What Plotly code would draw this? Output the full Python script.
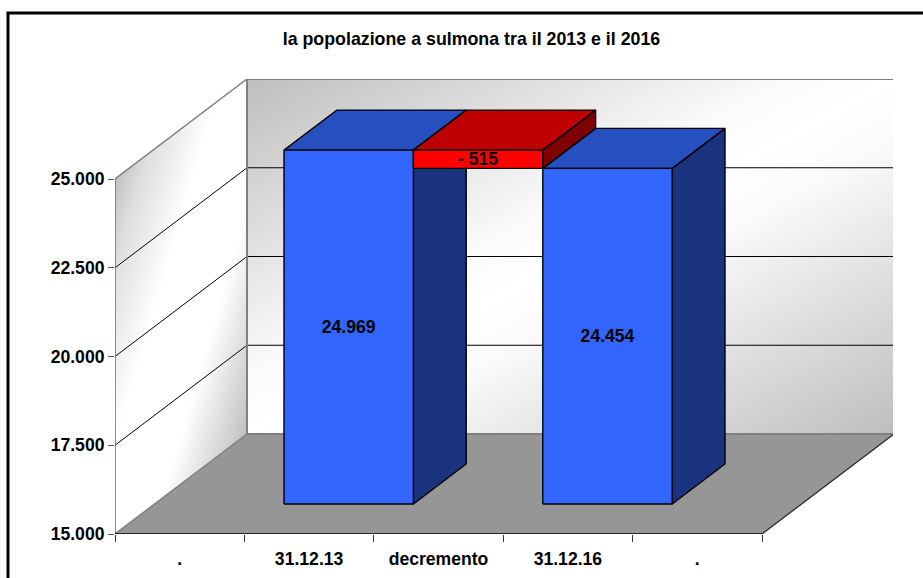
import numpy as np
import plotly.graph_objects as go

# ---- data ----
TITLE = "la popolazione a sulmona tra il 2013 e il 2016"
CATEGORIES = [".", "31.12.13", "decremento", "31.12.16", "."]
Y_TICKS = [15000, 17500, 20000, 22500, 25000]
BAR_SLOTS = [1, 3, 2]              # painter's order: left, right, then floating red
BAR_BASE = [15000, 15000, 24454]
BAR_VALUE = [24969, 24454, 515]
BAR_LABEL = ["24.969", "24.454", "- 515"]
FRONT = ["#3366FF", "#3366FF", "#FF0000"]
TOP = ["#264FBF", "#264FBF", "#BF0000"]
SIDE = ["#19337F", "#19337F", "#7F0000"]

# ---- oblique projection: depth d in 0..1 shifts a point across the plot ----
X_PX_PER_CAT = 129.4
Y_PX_PER_VAL = 0.0355
DEPTH_X = 132 / X_PX_PER_CAT
DEPTH_Y = 100 / Y_PX_PER_VAL
Y0, Y1 = 15000, 25000
N = len(CATEGORIES)
W, H = 923, 578
M_L, M_R, M_T, M_B = 115, 30, 79, 44
PLOT_W, PLOT_H = W - M_L - M_R, H - M_T - M_B
BAR_FRONT, BAR_BACK = 0.3, 0.7
FONT_SIZE = 17.6
LABEL_NUDGE_PX = 1.5


def proj(c, v, d=0.0):
    return c + d * DEPTH_X, v + d * DEPTH_Y


def poly(pts, fill, line="black", lw=1.4):
    xs, ys = zip(*(proj(*p) for p in pts + pts[:1]))
    return go.Scatter(x=xs, y=ys, mode="lines", fill="toself", fillcolor=fill,
                      line=dict(color=line, width=lw), hoverinfo="skip", showlegend=False)


def seg(a, b, color, lw):
    xs, ys = zip(proj(*a), proj(*b))
    return go.Scatter(x=xs, y=ys, mode="lines", line=dict(color=color, width=lw),
                      hoverinfo="skip", showlegend=False)


SHADE_BACK = [[0, "#BEBEBE"], [0.42, "#FBFBFB"], [0.5, "#FFFFFF"], [0.58, "#FBFBFB"], [1, "#BEBEBE"]]
SHADE_LEFT = [[0, "#C0C0C0"], [0.125, "#DEDEDE"], [0.38, "#FFFFFF"], [0.68, "#FFFFFF"], [1, "#C0C0C0"]]
fig = go.Figure()

# back wall shading
bx = np.linspace(DEPTH_X, N + DEPTH_X, 220)
by = np.linspace(Y0 + DEPTH_Y, Y1 + DEPTH_Y, 180)
BX, BY = np.meshgrid(bx, by)
zb = ((BX - DEPTH_X) / N + (Y1 + DEPTH_Y - BY) / (Y1 - Y0)) / 2
fig.add_trace(go.Heatmap(x=bx, y=by, z=zb, colorscale=SHADE_BACK, zmin=0, zmax=1,
                         showscale=False, hoverinfo="skip"))

# left wall shading
lx = np.linspace(0, DEPTH_X, 134)
ly = np.linspace(Y0, Y1 + DEPTH_Y, 228)
LX, LY = np.meshgrid(lx, ly)
U = LX / DEPTH_X
V = (Y1 - (LY - U * DEPTH_Y)) / (Y1 - Y0)
zl = (U + V) / 2
zl[(V < 0) | (V > 1)] = np.nan
fig.add_trace(go.Heatmap(x=lx, y=ly, z=zl, colorscale=SHADE_LEFT, zmin=0, zmax=1,
                         showscale=False, hoverinfo="skip"))

# floor
fig.add_trace(poly([(0, Y0, 0), (N, Y0, 0), (N, Y0, 1), (0, Y0, 1)], "#969696", "#969696", 0.5))

# gridlines on both walls
for t in Y_TICKS[1:-1]:
    fig.add_trace(seg((0, t, 0), (0, t, 1), "black", 1))
    fig.add_trace(seg((0, t, 1), (N, t, 1), "black", 1))

# wall and floor edges
fig.add_trace(seg((0, Y0, 0), (0, Y1, 0), "#6E6E6E", 1.5))
fig.add_trace(seg((0, Y1, 0), (0, Y1, 1), "#808080", 1.5))
fig.add_trace(seg((0, Y0, 0), (0, Y0, 1), "#808080", 1.5))
fig.add_trace(seg((0, Y0, 1), (0, Y1, 1), "#808080", 2))
fig.add_trace(seg((0, Y1, 1), (N, Y1, 1), "#808080", 2))
fig.add_trace(seg((N, Y1, 1), (N, Y0, 1), "#A6A6A6", 2))
fig.add_trace(seg((0, Y0, 1), (N, Y0, 1), "#808080", 2))
fig.add_trace(seg((N, Y0, 0), (N, Y0, 1), "#222222", 1.2))
fig.add_trace(seg((0, Y0, 0), (N, Y0, 0), "black", 1.5))

# 3-D bars, all drawn from the data through the projection
for i, slot in enumerate(BAR_SLOTS):
    lo = BAR_BASE[i]
    hi = lo + BAR_VALUE[i] if lo != Y0 else BAR_VALUE[i]
    a, b = slot, slot + 1
    f, k = BAR_FRONT, BAR_BACK
    fig.add_trace(poly([(b, lo, f), (b, lo, k), (b, hi, k), (b, hi, f)], SIDE[i]))
    fig.add_trace(poly([(a, hi, f), (b, hi, f), (b, hi, k), (a, hi, k)], TOP[i]))
    fig.add_trace(poly([(a, lo, f), (b, lo, f), (b, hi, f), (a, hi, f)], FRONT[i]))
    tx, ty = proj(slot + 0.5, (lo + hi) / 2 - LABEL_NUDGE_PX / Y_PX_PER_VAL, f)
    fig.add_trace(go.Scatter(x=[tx], y=[ty], mode="text", text=[BAR_LABEL[i]],
                             textposition="middle center",
                             textfont=dict(family="Liberation Sans", size=FONT_SIZE, color="black", weight=700),
                             hoverinfo="skip", showlegend=False))

AXIS_FONT = dict(family="Liberation Sans", size=FONT_SIZE, color="black", weight=700)
fig.update_layout(
    width=W, height=H, margin=dict(l=M_L, r=M_R, t=M_T, b=M_B, pad=0),
    paper_bgcolor="white", plot_bgcolor="rgba(0,0,0,0)", showlegend=False,
    separators=",.",
    title=dict(text=TITLE, x=(471.5 - M_L) / PLOT_W, xref="paper", xanchor="center",
               y=1 - 39 / H, yanchor="middle",
               font=dict(family="Liberation Sans", size=17.8, color="black", weight=700)),
    xaxis=dict(range=[0, PLOT_W / X_PX_PER_CAT], showgrid=False, zeroline=False, showline=False,
               automargin=False,
               tickmode="array", tickvals=[i + 0.5 for i in range(N)], ticktext=CATEGORIES,
               ticks="outside", ticklen=9, tickcolor="rgba(0,0,0,0)", tickfont=AXIS_FONT,
               minor=dict(tickmode="array", tickvals=list(range(N + 1)), ticks="outside",
                          ticklen=7, tickwidth=1.2, tickcolor="#333333", showgrid=False)),
    yaxis=dict(range=[Y0, Y0 + PLOT_H / Y_PX_PER_VAL], showgrid=False, zeroline=False, showline=False,
               automargin=False,
               tickmode="array", tickvals=Y_TICKS, tickformat=",d", ticks="outside", ticklen=6,
               tickwidth=1.2, tickcolor="#555555", tickfont=AXIS_FONT),
    shapes=[dict(type="rect", xref="paper", yref="paper", layer="below",
                 x0=(8 - M_L) / PLOT_W, x1=(930 - M_L) / PLOT_W,
                 y0=1 - (590 - M_T) / PLOT_H, y1=1 - (13 - M_T) / PLOT_H,
                 line=dict(color="black", width=3), fillcolor="white")],
)

fig.write_html("out.html", config={"displayModeBar": False},
               post_script="document.body.style.margin='0';")
